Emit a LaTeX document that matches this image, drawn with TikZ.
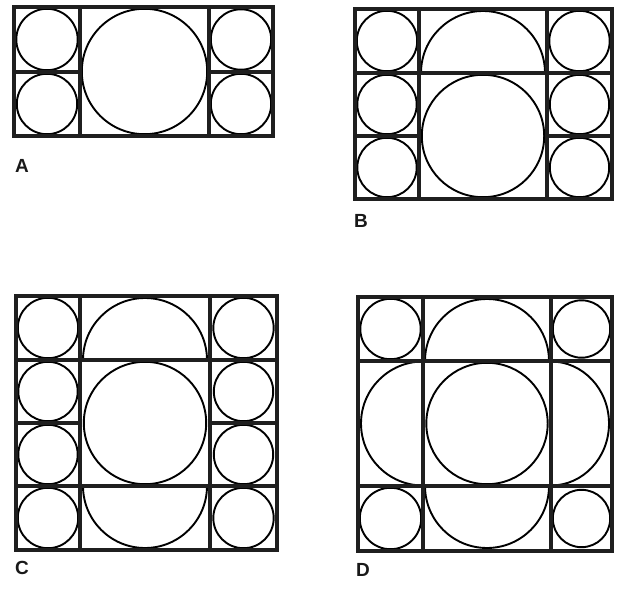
\documentclass[tikz,border=0pt]{standalone}
\usepackage{fontspec}
\setmainfont{Liberation Sans}
\tikzset{
  gridline/.style={line width=3.6pt, draw=black!88, line cap=square},
  circ/.style={line width=1.9pt, draw=black},
  lbl/.style={font=\bfseries\fontsize{19}{19}\selectfont, inner sep=0pt, text=black!90}
}
% circle inscribed in a cell
\newcommand\cellcirc[4]{%
  \pgfmathsetmacro\ccx{(#1+#3)/2}%
  \pgfmathsetmacro\ccy{(#2+#4)/2}%
  \pgfmathsetmacro\ccr{min(abs(#3-#1),abs(#4-#2))/2-1.8}%
  \draw[circ] (\ccx,\ccy) circle[radius=\ccr];}
% clipped ellipse (half circle) in a cell
\newcommand\halfcirc[8]{%
  \begin{scope}\clip (#1,#2) rectangle (#3,#4);
  \draw[circ] (#5,#6) ellipse[x radius=#7, y radius=#8];\end{scope}}
\begin{document}
\begin{tikzpicture}[x=1pt,y=-1pt]
\useasboundingbox (0,0) rectangle (620,588);
\fill[white] (0,0) rectangle (620,588);

% ---------- Panel A ----------
\cellcirc{14}{7}{80}{72}
\cellcirc{14}{72}{80}{136}
\cellcirc{209}{7}{273}{72}
\cellcirc{209}{72}{273}{136}
\cellcirc{80}{7}{209}{136}
\draw[gridline] (14,7) rectangle (273,136);
\draw[gridline] (80,7) -- (80,136) (209,7) -- (209,136)
  (14,72) -- (80,72) (209,72) -- (273,72);
\node[lbl] (la) at (22,166) {A};

% ---------- Panel B ----------
\cellcirc{355}{9}{419}{73}
\cellcirc{355}{73}{419}{136}
\cellcirc{355}{136}{419}{199}
\cellcirc{547}{9}{612}{73}
\cellcirc{547}{73}{612}{136}
\cellcirc{547}{136}{612}{199}
\halfcirc{419}{9}{547}{73}{483}{73}{62}{62}
\cellcirc{419}{73}{547}{199}
\draw[gridline] (355,9) rectangle (612,199);
\draw[gridline] (419,9) -- (419,199) (547,9) -- (547,199)
  (355,73) -- (612,73) (355,136) -- (419,136) (547,136) -- (612,136);
\node[lbl] (lb) at (361,221) {B};

% ---------- Panel C ----------
\cellcirc{16}{296}{80}{360}
\cellcirc{16}{360}{80}{423}
\cellcirc{16}{423}{80}{486}
\cellcirc{16}{486}{80}{550}
\cellcirc{210}{296}{277}{360}
\cellcirc{210}{360}{277}{423}
\cellcirc{210}{423}{277}{486}
\cellcirc{210}{486}{277}{550}
\halfcirc{80}{296}{210}{360}{145}{360}{62}{62}
\cellcirc{80}{360}{210}{486}
\halfcirc{80}{486}{210}{550}{145}{486}{62}{62}
\draw[gridline] (16,296) rectangle (277,550);
\draw[gridline] (80,296) -- (80,550) (210,296) -- (210,550)
  (16,360) -- (277,360) (16,486) -- (277,486)
  (16,423) -- (80,423) (210,423) -- (277,423);
\node[lbl] (lc) at (22,568) {C};

% ---------- Panel D ----------
\cellcirc{358}{297}{423}{361}
\cellcirc{551}{297}{612}{361}
\cellcirc{358}{486}{423}{551}
\cellcirc{551}{486}{612}{551}
\halfcirc{423}{297}{551}{361}{487}{361}{62}{62}
\cellcirc{423}{361}{551}{486}
\halfcirc{423}{486}{551}{551}{487}{486}{62}{62}
\halfcirc{358}{361}{423}{486}{423}{423.5}{62}{62}
\halfcirc{551}{361}{612}{486}{551}{423.5}{58}{62}
\draw[gridline] (358,297) rectangle (612,551);
\draw[gridline] (423,297) -- (423,551) (551,297) -- (551,551)
  (358,361) -- (612,361) (358,486) -- (612,486);
\node[lbl] (ld) at (363,570) {D};
\end{tikzpicture}
\end{document}
